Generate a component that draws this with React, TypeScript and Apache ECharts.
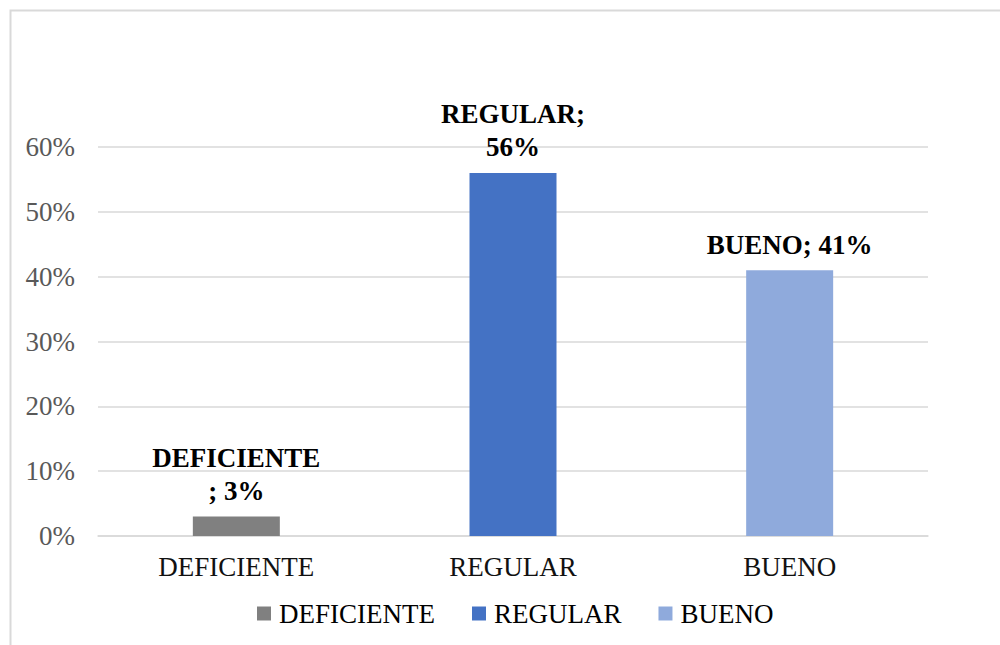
import React, { useEffect, useRef } from "react";
import * as echarts from "echarts";

// Survey result categories and their share of responses (%)
const categories: string[] = ["DEFICIENTE", "REGULAR", "BUENO"];
const percentages: number[] = [3, 56, 41];
const barColors: string[] = ["#808080", "#4472C4", "#8FAADC"];
const yTicks: number[] = [0, 10, 20, 30, 40, 50, 60];

const FONT = "'Liberation Serif', 'Times New Roman', serif";

// where the data-label text wraps, per category
const labelLines = (name: string, value: number): string => {
  if (name === "DEFICIENTE") return `${name}\n; ${value}%`;
  if (name === "REGULAR") return `${name};\n${value}%`;
  return `${name}; ${value}%`;
};

export default function App() {
  const ref = useRef<HTMLDivElement>(null);

  useEffect(() => {
    if (!ref.current) return;
    const chart = echarts.init(ref.current, null, { renderer: "svg" });

    const series = categories.map((name, i) => ({
      name,
      type: "bar" as const,
      barWidth: 87,
      barGap: "-100%",
      itemStyle: { color: barColors[i] },
      data: categories.map((_, j) => (j === i ? percentages[i] : "-")),
      label: {
        show: true,
        position: "top" as const,
        distance: 9,
        formatter: (p: any) => labelLines(name, p.value),
        fontFamily: FONT,
        fontWeight: "bold" as const,
        fontSize: 27,
        lineHeight: 33,
        color: "#000",
      },
    }));

    chart.setOption({
      animation: false,
      backgroundColor: "#fff",
      graphic: [
        {
          type: "rect",
          shape: { x: 10.5, y: 10.5, width: 1100, height: 800 },
          style: { fill: "none", stroke: "#d9d9d9", lineWidth: 2 },
          silent: true,
        },
      ],
      grid: { left: 98, right: 72, top: 147, bottom: 109, containLabel: false },
      legend: {
        data: categories,
        top: 595,
        left: 252,
        icon: "rect",
        itemWidth: 14,
        itemHeight: 14,
        itemGap: 37,
        textStyle: {
          fontFamily: FONT,
          fontSize: 27,
          color: "#000",
          padding: [0, 0, 0, 3],
        },
      },
      xAxis: {
        type: "category",
        data: categories,
        axisLine: { show: true, lineStyle: { color: "#d9d9d9", width: 1.5 } },
        axisTick: { show: false },
        axisLabel: {
          fontFamily: FONT,
          fontSize: 27,
          color: "#111",
          margin: 17,
        },
      },
      yAxis: {
        type: "value",
        min: yTicks[0],
        max: yTicks[yTicks.length - 1],
        interval: 10,
        axisLine: { show: false },
        axisTick: { show: false },
        splitLine: { lineStyle: { color: "#d9d9d9", width: 1.5 } },
        axisLabel: {
          formatter: "{value}%",
          fontFamily: FONT,
          fontSize: 27,
          color: "#595959",
          margin: 23,
        },
      },
      series,
    });

    return () => chart.dispose();
  }, []);

  return (
    <div
      ref={ref}
      style={{ position: "fixed", left: 0, top: 0, width: 1000, height: 645 }}
    />
  );
}
